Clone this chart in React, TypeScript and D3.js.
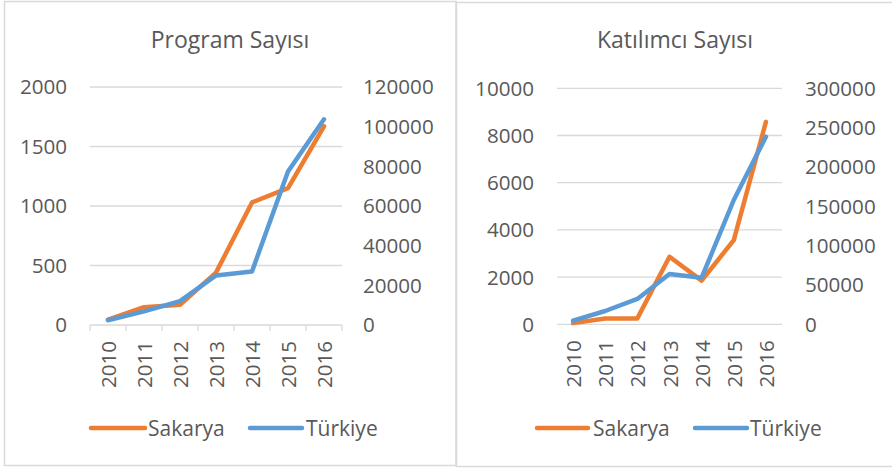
import React from "react";
import * as d3 from "d3";

const years = ["2010", "2011", "2012", "2013", "2014", "2015", "2016"];
const seriesNames = ["Sakarya", "Türkiye"];
const seriesColors = ["#ED7D31", "#5B9BD5"];

const programSakarya = [45, 150, 170, 440, 1030, 1150, 1670];
const programTurkiye = [2400, 6900, 12000, 25000, 27000, 77400, 103700];
const programLeftTicks = [0, 500, 1000, 1500, 2000];
const programRightTicks = [0, 20000, 40000, 60000, 80000, 100000, 120000];

const katilimciSakarya = [50, 250, 250, 2860, 1850, 3570, 8580];
const katilimciTurkiye = [4600, 16900, 32200, 63900, 59200, 158000, 238500];
const katilimciLeftTicks = [0, 2000, 4000, 6000, 8000, 10000];
const katilimciRightTicks = [0, 50000, 100000, 150000, 200000, 250000, 300000];

const FONT = "'Open Sans', sans-serif";
const TEXT = "#595959";
const GRID = "#D9D9D9";

type PanelProps = {
  title: string;
  left: number[];
  right: number[];
  leftTicks: number[];
  rightTicks: number[];
  x0: number;
  x1: number;
  yTop: number;
  yBot: number;
  leftLabelX: number;
  rightLabelX: number;
  titleX: number;
  legend: { lx0: number; lx1: number; tx: number }[];
  ticks: boolean;
};

function Panel(p: PanelProps) {
  const x = d3.scaleBand<string>().domain(years).range([p.x0, p.x1]);
  const yL = d3
    .scaleLinear()
    .domain([0, d3.max(p.leftTicks) as number])
    .range([p.yBot, p.yTop]);
  const yR = d3
    .scaleLinear()
    .domain([0, d3.max(p.rightTicks) as number])
    .range([p.yBot, p.yTop]);
  const cx = (d: string) => (x(d) as number) + x.bandwidth() / 2;
  const lineL = d3
    .line<number>()
    .x((_, i) => cx(years[i]))
    .y((v) => yL(v));
  const lineR = d3
    .line<number>()
    .x((_, i) => cx(years[i]))
    .y((v) => yR(v));
  const legendY = 428;
  return (
    <g fontFamily={FONT} fill={TEXT}>
      <text x={p.titleX} y={48} textAnchor="middle" fontSize={23}>
        {p.title}
      </text>
      {p.leftTicks.map((t) => (
        <g key={"l" + t}>
          {t !== 0 && (
            <line x1={p.x0} x2={p.x1} y1={yL(t)} y2={yL(t)} stroke={GRID} strokeWidth={1.3} />
          )}
          <text x={p.leftLabelX} y={yL(t)} dy="0.36em" textAnchor="end" fontSize={20.6}>
            {t}
          </text>
        </g>
      ))}
      {p.rightTicks.map((t) => (
        <text key={"r" + t} x={p.rightLabelX} y={yR(t)} dy="0.36em" textAnchor="start" fontSize={20.6}>
          {t}
        </text>
      ))}
      <line x1={p.x0} x2={p.x1} y1={p.yBot} y2={p.yBot} stroke={GRID} strokeWidth={1.3} />
      {p.ticks &&
        [...years.map((d) => x(d) as number), p.x1].map((tx, i) => (
          <line key={"t" + i} x1={tx} x2={tx} y1={p.yBot} y2={p.yBot + 6} stroke={GRID} strokeWidth={1.3} />
        ))}
      {years.map((d) => (
        <text
          key={d}
          transform={`translate(${cx(d)},${p.yBot + 16}) rotate(-90)`}
          textAnchor="end"
          dominantBaseline="central"
          fontSize={20.6}
        >
          {d}
        </text>
      ))}
      <path d={lineL(p.left) as string} fill="none" stroke={seriesColors[0]} strokeWidth={4.5} strokeLinejoin="round" strokeLinecap="round" />
      <path d={lineR(p.right) as string} fill="none" stroke={seriesColors[1]} strokeWidth={4.5} strokeLinejoin="round" strokeLinecap="round" />
      {p.legend.map((l, i) => (
        <g key={"lg" + i}>
          <line x1={l.lx0} x2={l.lx1} y1={legendY} y2={legendY} stroke={seriesColors[i]} strokeWidth={4.5} strokeLinecap="round" />
          <text x={l.tx} y={legendY} dy="0.36em" fontSize={21}>
            {seriesNames[i]}
          </text>
        </g>
      ))}
    </g>
  );
}

export default function App() {
  return (
    <svg width={892} height={468} style={{ position: "absolute", left: 0, top: 0 }}>
      <rect x={0} y={0} width={892} height={468} fill="#fff" />
      <rect x={4.5} y={1.5} width={451.5} height={464} fill="none" stroke={GRID} strokeWidth={1.5} />
      <rect x={456.5} y={2.5} width={440} height={464} fill="none" stroke={GRID} strokeWidth={1.5} />
      <Panel
        title="Program Sayısı"
        left={programSakarya}
        right={programTurkiye}
        leftTicks={programLeftTicks}
        rightTicks={programRightTicks}
        x0={90}
        x1={342}
        yTop={87}
        yBot={325}
        leftLabelX={67}
        rightLabelX={363}
        titleX={230}
        legend={[
          { lx0: 91, lx1: 145, tx: 148 },
          { lx0: 250, lx1: 302, tx: 306 },
        ]}
        ticks={true}
      />
      <Panel
        title="Katılımcı Sayısı"
        left={katilimciSakarya}
        right={katilimciTurkiye}
        leftTicks={katilimciLeftTicks}
        rightTicks={katilimciRightTicks}
        x0={557}
        x1={782}
        yTop={88.3}
        yBot={324.3}
        leftLabelX={534}
        rightLabelX={805}
        titleX={675}
        legend={[
          { lx0: 537, lx1: 588, tx: 593 },
          { lx0: 695, lx1: 747, tx: 750 },
        ]}
        ticks={false}
      />
    </svg>
  );
}
